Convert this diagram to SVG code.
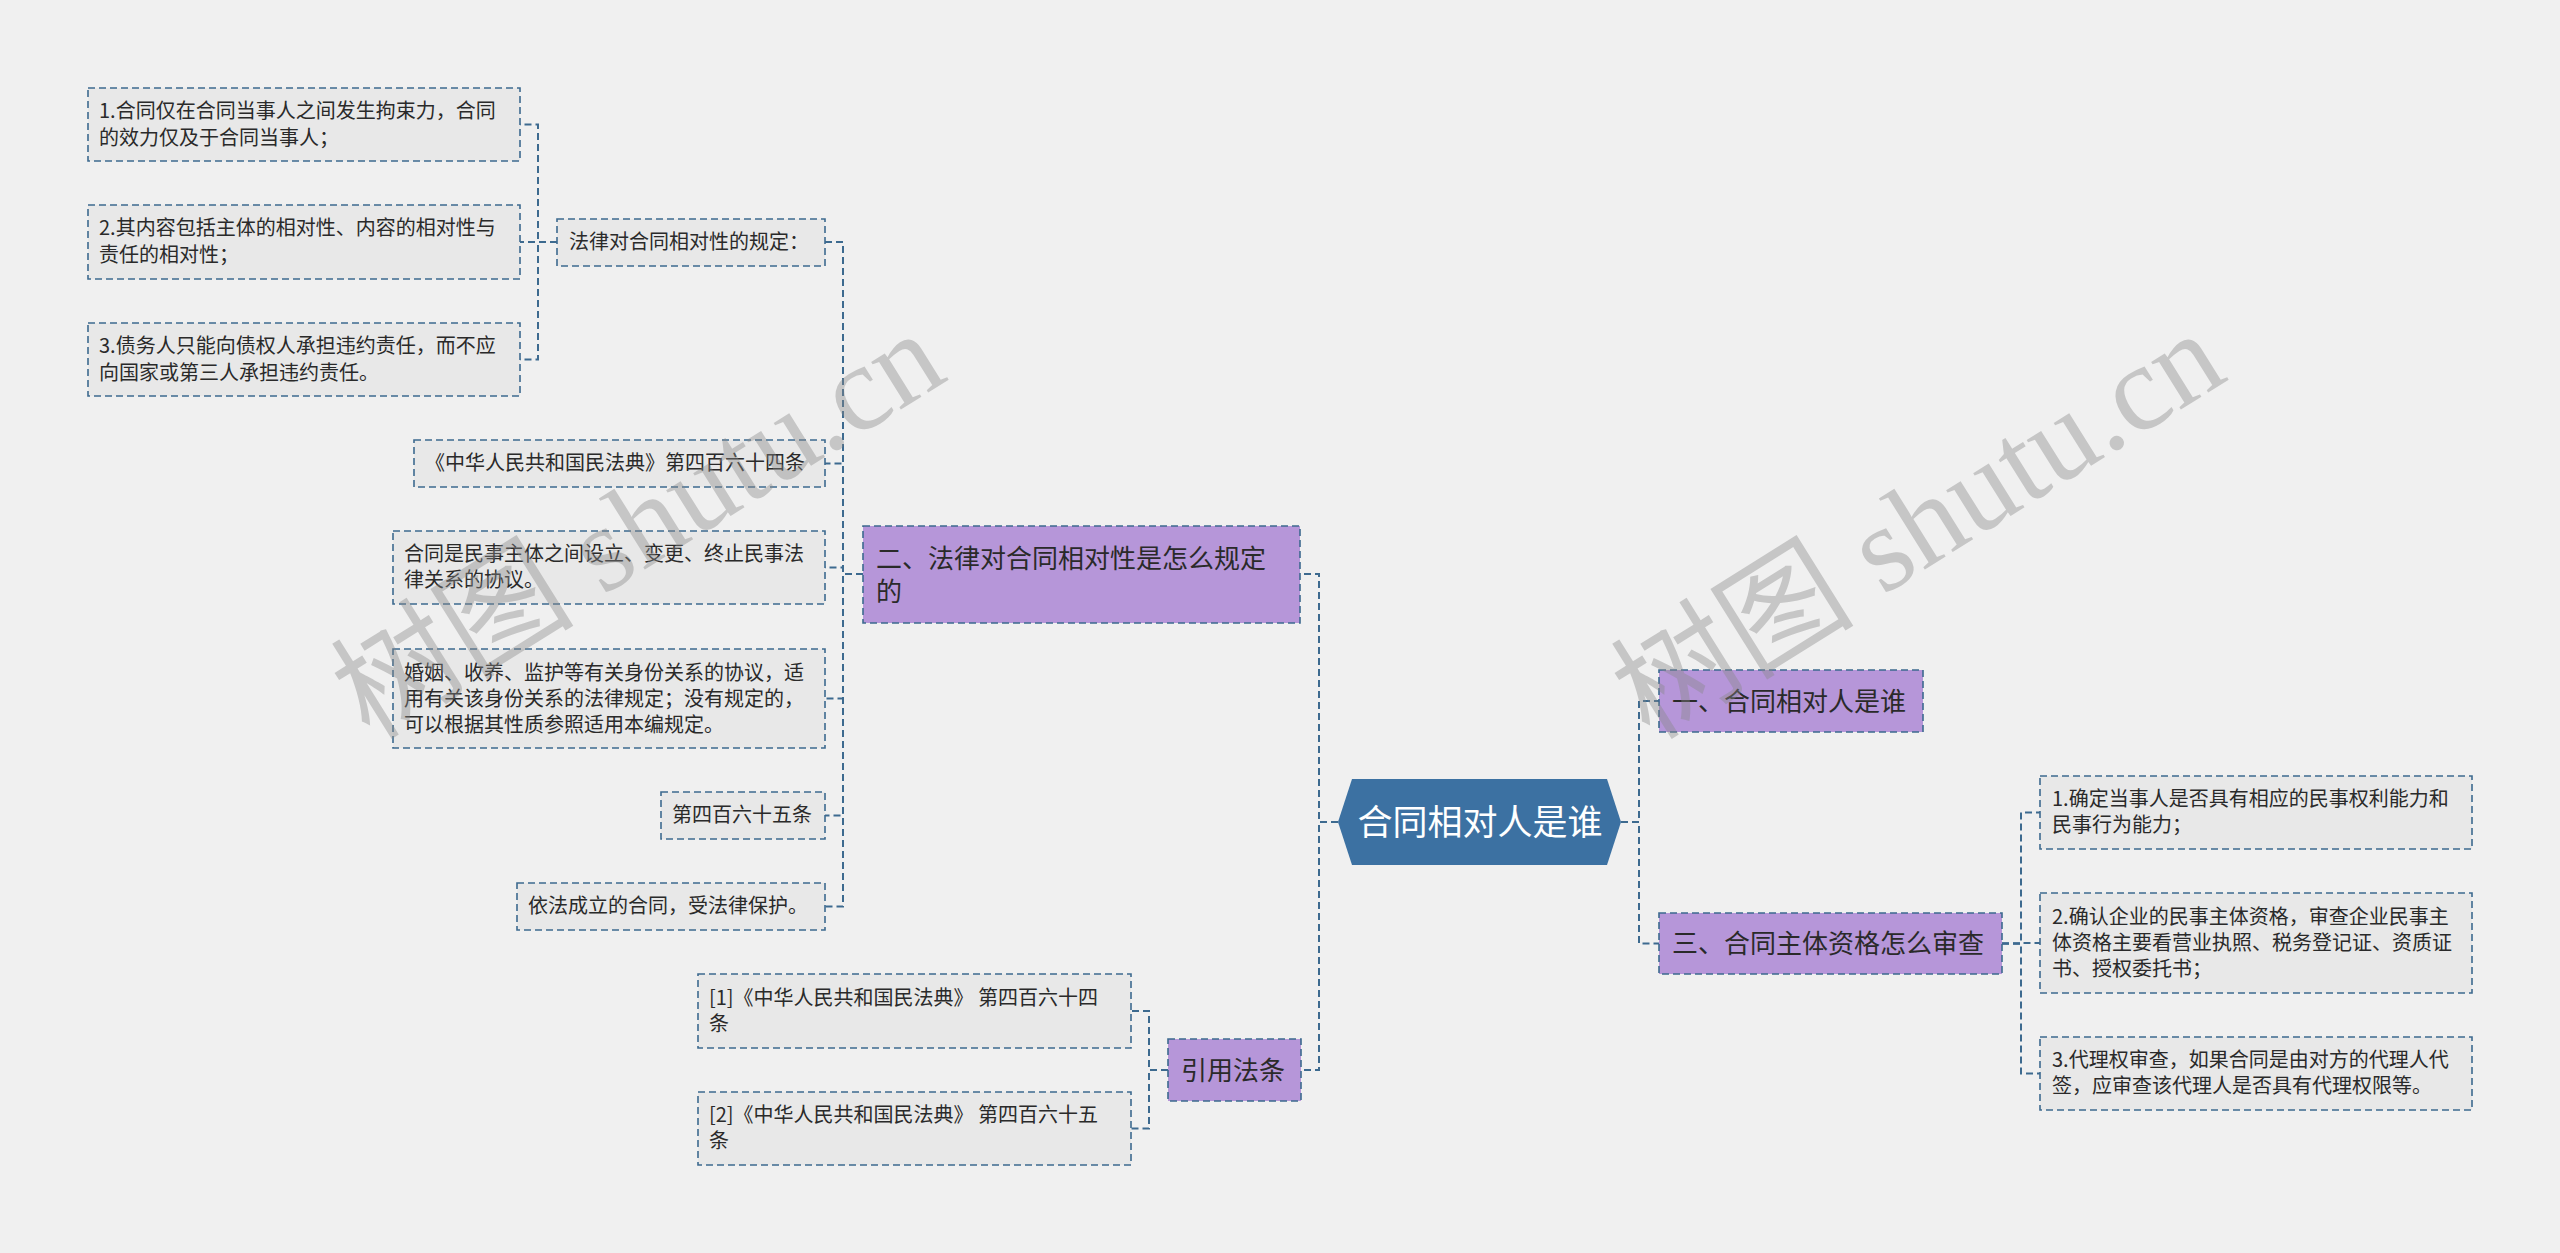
<svg xmlns="http://www.w3.org/2000/svg" width="2560" height="1253" viewBox="0 0 2560 1253">
<style>
.bg{fill:#f0f0f0}
.leaf rect{fill:#e8e8e8;stroke:#3d6a8f;stroke-width:1.6;stroke-dasharray:7 4}
.sub rect{fill:#b696d9;stroke:#3d6a8f;stroke-width:1.6;stroke-dasharray:7 4}
.t{font-family:"Noto Sans CJK SC","Microsoft YaHei",sans-serif;font-size:20px;fill:#2a2a2a}
.st{font-family:"Noto Sans CJK SC","Microsoft YaHei",sans-serif;font-size:26px;fill:#2a2a2a}
.rt{font-family:"Noto Sans CJK SC","Microsoft YaHei",sans-serif;font-size:35px;fill:#ffffff;text-anchor:middle}
.conn path{fill:none;stroke:#3d6a8f;stroke-width:2;stroke-dasharray:7 4}
.wm{font-family:"Liberation Serif","Noto Sans CJK SC",serif;font-size:122px;fill:#888888;opacity:0.4;text-anchor:middle}
</style>
<rect class="bg" x="0" y="0" width="2560" height="1253"/>

<g id="connectors" class="conn">
  <path d="M1338,822 H1319 V574 H1300"/>
  <path d="M1338,822 H1319 V1070 H1301"/>
  <path d="M1621,822 H1639 V701 H1659"/>
  <path d="M1621,822 H1639 V943.5 H1659"/>
  <path d="M863,574 H843 V242 H825"/>
  <path d="M863,574 H843 V463.5 H825"/>
  <path d="M863,574 H843 V567.5 H825"/>
  <path d="M863,574 H843 V698.5 H825"/>
  <path d="M863,574 H843 V815.5 H825"/>
  <path d="M863,574 H843 V906.5 H825"/>
  <path d="M557,242 H538 V124.5 H520"/>
  <path d="M557,242 H538 V242 H520"/>
  <path d="M557,242 H538 V359.5 H520"/>
  <path d="M1168,1070 H1149 V1011 H1131"/>
  <path d="M1168,1070 H1149 V1128.5 H1131"/>
  <path d="M2002,943.5 H2021 V812.5 H2040"/>
  <path d="M2002,943.5 H2021 V943 H2040"/>
  <path d="M2002,943.5 H2021 V1073.5 H2040"/>
</g>

<g id="root">
  <polygon points="1338,822 1352,779 1607,779 1621,822 1607,865 1352,865" fill="#3c71a2"/>
  <text class="rt" x="1480" y="835">合同相对人是谁</text>
</g>

<g id="n-er" class="sub">
  <rect x="863" y="526" width="437" height="97"/>
  <text class="st" x="876" y="568">二、法律对合同相对性是怎么规定</text>
  <text class="st" x="876" y="601">的</text>
</g>
<g id="n-yinyong" class="sub">
  <rect x="1168" y="1039" width="133" height="62"/>
  <text class="st" x="1181" y="1080">引用法条</text>
</g>
<g id="n-yi" class="sub">
  <rect x="1659" y="670" width="264" height="62"/>
  <text class="st" x="1672" y="711">一、合同相对人是谁</text>
</g>
<g id="n-san" class="sub">
  <rect x="1659" y="913" width="343" height="61"/>
  <text class="st" x="1672" y="953">三、合同主体资格怎么审查</text>
</g>

<g id="n-falv" class="leaf">
  <rect x="557" y="219" width="268" height="47"/>
  <text class="t" x="569" y="249">法律对合同相对性的规定：</text>
</g>
<g id="n-l1" class="leaf">
  <rect x="88" y="88" width="432" height="73"/>
  <text class="t" x="99" y="118">1.合同仅在合同当事人之间发生拘束力，合同</text>
  <text class="t" x="99" y="145">的效力仅及于合同当事人；</text>
</g>
<g id="n-l2" class="leaf">
  <rect x="88" y="205" width="432" height="74"/>
  <text class="t" x="99" y="235">2.其内容包括主体的相对性、内容的相对性与</text>
  <text class="t" x="99" y="262">责任的相对性；</text>
</g>
<g id="n-l3" class="leaf">
  <rect x="88" y="323" width="432" height="73"/>
  <text class="t" x="99" y="353">3.债务人只能向债权人承担违约责任，而不应</text>
  <text class="t" x="99" y="380">向国家或第三人承担违约责任。</text>
</g>
<g id="n-dian464" class="leaf">
  <rect x="414" y="440" width="411" height="47"/>
  <text class="t" x="425" y="470">《中华人民共和国民法典》第四百六十四条</text>
</g>
<g id="n-hetong" class="leaf">
  <rect x="393" y="531" width="432" height="73"/>
  <text class="t" x="404" y="561">合同是民事主体之间设立、变更、终止民事法</text>
  <text class="t" x="404" y="587">律关系的协议。</text>
</g>
<g id="n-hunyin" class="leaf">
  <rect x="393" y="649" width="432" height="99"/>
  <text class="t" x="404" y="680">婚姻、收养、监护等有关身份关系的协议，适</text>
  <text class="t" x="404" y="706">用有关该身份关系的法律规定；没有规定的，</text>
  <text class="t" x="404" y="732">可以根据其性质参照适用本编规定。</text>
</g>
<g id="n-465" class="leaf">
  <rect x="661" y="792" width="164" height="47"/>
  <text class="t" x="672" y="822">第四百六十五条</text>
</g>
<g id="n-yifa" class="leaf">
  <rect x="517" y="883" width="308" height="47"/>
  <text class="t" x="528" y="913">依法成立的合同，受法律保护。</text>
</g>
<g id="n-ref1" class="leaf">
  <rect x="698" y="974" width="433" height="74"/>
  <text class="t" x="709" y="1005">[1]《中华人民共和国民法典》 第四百六十四</text>
  <text class="t" x="709" y="1031">条</text>
</g>
<g id="n-ref2" class="leaf">
  <rect x="698" y="1092" width="433" height="73"/>
  <text class="t" x="709" y="1122">[2]《中华人民共和国民法典》 第四百六十五</text>
  <text class="t" x="709" y="1148">条</text>
</g>
<g id="n-r1" class="leaf">
  <rect x="2040" y="776" width="432" height="73"/>
  <text class="t" x="2052" y="806">1.确定当事人是否具有相应的民事权利能力和</text>
  <text class="t" x="2052" y="832">民事行为能力；</text>
</g>
<g id="n-r2" class="leaf">
  <rect x="2040" y="893" width="432" height="100"/>
  <text class="t" x="2052" y="924">2.确认企业的民事主体资格，审查企业民事主</text>
  <text class="t" x="2052" y="950">体资格主要看营业执照、税务登记证、资质证</text>
  <text class="t" x="2052" y="976">书、授权委托书；</text>
</g>
<g id="n-r3" class="leaf">
  <rect x="2040" y="1037" width="432" height="73"/>
  <text class="t" x="2052" y="1067">3.代理权审查，如果合同是由对方的代理人代</text>
  <text class="t" x="2052" y="1093">签，应审查该代理人是否具有代理权限等。</text>
</g>

<g id="watermarks">
  <text class="wm" transform="translate(660,560) rotate(-32)">树图 shutu.cn</text>
  <text class="wm" transform="translate(1940,560) rotate(-32)">树图 shutu.cn</text>
</g>
</svg>
